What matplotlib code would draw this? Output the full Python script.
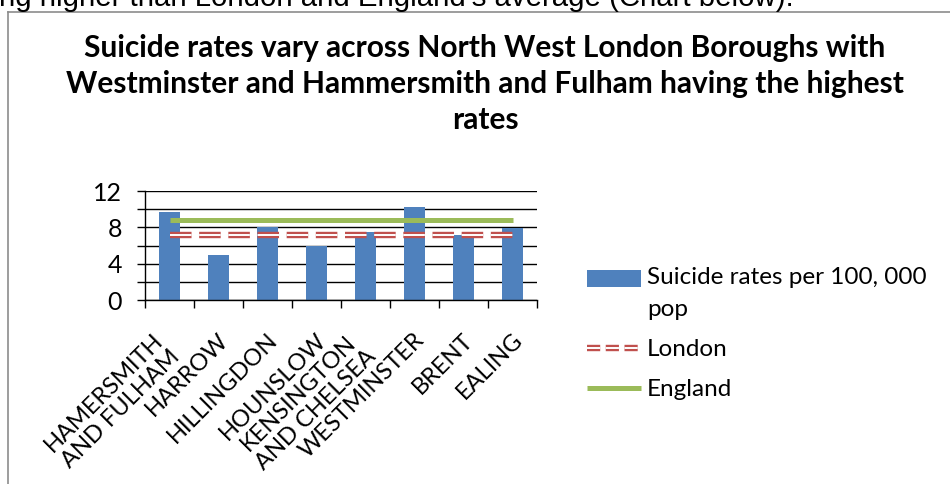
import matplotlib
matplotlib.use("Agg")
import matplotlib.pyplot as plt
from matplotlib.patches import Patch, Rectangle
from matplotlib.lines import Line2D
from matplotlib.legend_handler import HandlerPatch
import matplotlib.transforms as mtransforms

# Data
boroughs = ["HAMERSMITH\nAND FULHAM", "HARROW", "HILLINGDON", "HOUNSLOW",
            "KENSINGTON\nAND CHELSEA", "WESTMINSTER", "BRENT", "EALING"]
suicide_rates = [9.7, 5.0, 8.0, 5.9, 7.5, 10.2, 7.2, 7.9]
london_rate = 7.2
england_rate = 8.8
y_ticks = [0, 2, 4, 6, 8, 10, 12]
y_tick_labels = ["0", "", "4", "", "8", "", "12"]

title = ("Suicide rates vary across North West London Boroughs with\n"
         "Westminster and Hammersmith and Fulham having the highest\n"
         "rates")
series_label = "Suicide rates per 100, 000\npop"

BLUE = "#4F81BD"
RED = "#C0504D"
GREEN = "#9BBB59"
FONT = "Lato"

plt.rcParams["lines.scale_dashes"] = False

fig = plt.figure(figsize=(9.5, 4.84), dpi=100)
W, H = 950, 484


def fx(px):
    return px / W


def fy(py):
    return 1 - py / H


# Sentence from the surrounding document, clipped by the top edge
fig.text(fx(-1), fy(5.5), "ng higher than London and England\u2019s average (Chart below).",
         fontsize=21.2, family="Liberation Sans", ha="left", va="baseline")

# Chart frame
frame_kw = dict(color="#8C8C8C", lw=1.2)
fig.add_artist(Line2D([fx(8), fx(8)], [fy(11.5), fy(490)], **frame_kw))
fig.add_artist(Line2D([fx(8), fx(960)], [fy(11.5), fy(11.5)], **frame_kw))

fig.text(fx(485), fy(84), title, ha="center", va="center", fontsize=21.5,
         fontweight="bold", family=FONT, linespacing=1.36)

ax = fig.add_axes([fx(145), fy(300), fx(537) - fx(145), fy(191) - fy(300)])
x = list(range(len(boroughs)))
ax.bar(x, suicide_rates, width=0.41, color=BLUE, zorder=2, label=series_label)

xs = [x[0], x[-1]]
ax.plot(xs, [england_rate] * 2, color=GREEN, lw=3.6, zorder=3, solid_capstyle="butt")
dash = (0, (15.5, 5.5))
ax.plot(xs, [london_rate] * 2, color=RED, lw=4.6, linestyle=dash, zorder=3,
        dash_capstyle="butt")
ax.plot(xs, [london_rate] * 2, color="white", lw=1.4, linestyle=dash, zorder=3,
        dash_capstyle="butt")

ax.set_xlim(-0.5, len(boroughs) - 0.5)
ax.set_ylim(0, 12)
ax.set_yticks(y_ticks)
ax.set_yticklabels(y_tick_labels, family=FONT, fontsize=18)
ax.yaxis.grid(True, color="black", lw=1.0, zorder=0)
ax.set_axisbelow(True)
ax.tick_params(axis="y", length=6, width=1.0, pad=10.5)

ax.set_xticks([i + 0.5 for i in range(-1, len(boroughs))], minor=False)
ax.set_xticklabels([])
ax.tick_params(axis="x", which="major", length=6, width=1.0)
ax.set_xticks(x, minor=True)
labels_x = ax.set_xticklabels(boroughs, minor=True, rotation=45, ha="right", va="top",
                              family=FONT, fontsize=17, multialignment="center",
                              linespacing=1.15)
ax.tick_params(axis="x", which="minor", length=0, pad=21)
shift = mtransforms.ScaledTranslation(14 / 100, 0, fig.dpi_scale_trans)
for lab in labels_x:
    lab.set_transform(lab.get_transform() + shift)

for s in ["top", "right"]:
    ax.spines[s].set_visible(False)
ax.spines["left"].set_linewidth(1.0)
ax.spines["bottom"].set_linewidth(1.0)


def raised_patch(legend, orig_handle, xdescent, ydescent, width, height, fontsize):
    # keep the swatch level with the first line of a wrapped label
    h = 0.66 * fontsize
    return Rectangle((-xdescent, height / 2 - h / 2 + 0.62 * fontsize), width, h)


handles = [
    Patch(facecolor=BLUE, edgecolor="none"),
    (Line2D([], [], color=RED, lw=4.6, linestyle=(0, (9.5, 4)), dash_capstyle="butt"),
     Line2D([], [], color="white", lw=1.4, linestyle=(0, (9.5, 4)), dash_capstyle="butt")),
    Line2D([], [], color=GREEN, lw=3.6, solid_capstyle="butt"),
]
labels = [series_label, "London", "England"]
leg = fig.legend(handles, labels, loc="upper left",
                 bbox_to_anchor=(fx(587), fy(267)), frameon=False, borderpad=0,
                 borderaxespad=0,
                 prop={"family": FONT, "size": 17.5}, handlelength=2.22,
                 handleheight=0.66, handletextpad=0.25, labelspacing=0.8,
                 handler_map={Patch: HandlerPatch(patch_func=raised_patch)})
for t in leg.get_texts():
    t.set_linespacing(1.62)

fig.savefig("out.png", dpi=100)
